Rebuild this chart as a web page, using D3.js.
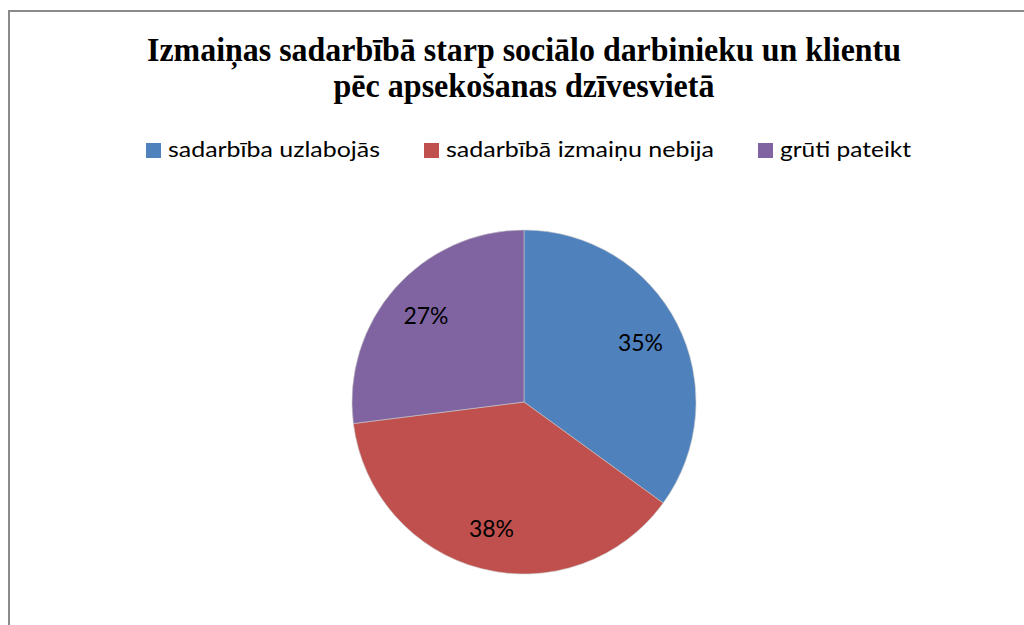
<!DOCTYPE html>
<html>
<head>
<meta charset="utf-8">
<script src="https://cdn.jsdelivr.net/npm/d3@7"></script>
<style>
    html, body { margin: 0; padding: 0; background: #fff; }
    svg { display: block; }
</style>
</head>
<body>
<script>
var titleLines = ["Izmaiņas sadarbībā starp sociālo darbinieku un klientu",
                  "pēc apsekošanas dzīvesvietā"];
var categories = ["sadarbība uzlabojās", "sadarbībā izmaiņu nebija", "grūti pateikt"];
var values = [35, 38, 27];
var colors = ["#4f81bd", "#c0504d", "#8064a2"];

(function () {
    var width = 1024,
        height = 625;

    var svg = d3.select("body")
        .append("svg")
        .attr("width", width)
        .attr("height", height);

    // chart frame (runs off the right and bottom of the picture)
    svg.append("rect")
        .attr("x", 9)
        .attr("y", 11)
        .attr("width", width + 20)
        .attr("height", height + 20)
        .attr("fill", "#fff")
        .attr("stroke", "#8a8a8a")
        .attr("stroke-width", 2);

    // title
    var titleWidths = [754, 381];
    svg.append("g")
        .selectAll("text")
        .data(titleLines)
        .enter().append("text")
        .attr("x", 524)
        .attr("y", function (d, i) { return 61 + i * 36; })
        .attr("text-anchor", "middle")
        .attr("textLength", function (d, i) { return titleWidths[i]; })
        .attr("lengthAdjust", "spacingAndGlyphs")
        .style("font-family", "'Liberation Serif', 'Times New Roman', serif")
        .style("font-weight", "bold")
        .style("font-size", "33px")
        .text(function (d) { return d; });

    // legend
    var legendX = [146, 424, 758],
        legendW = [212, 268, 131];
    var legend = svg.append("g")
        .selectAll("g")
        .data(categories)
        .enter().append("g")
        .attr("transform", function (d, i) { return "translate(" + legendX[i] + ",143)"; });

    legend.append("rect")
        .attr("width", 15)
        .attr("height", 15)
        .attr("fill", function (d, i) { return colors[i]; });

    legend.append("text")
        .attr("x", 22)
        .attr("y", 13.5)
        .attr("textLength", function (d, i) { return legendW[i]; })
        .attr("lengthAdjust", "spacingAndGlyphs")
        .style("font-family", "Lato, sans-serif")
        .style("font-size", "22px")
        .style("fill", "#000")
        .text(function (d) { return d; });

    // pie
    var cx = 524,
        cy = 402,
        r = 172;

    var pie = d3.pie().sort(null).value(function (d) { return d; });
    var arc = d3.arc().innerRadius(0).outerRadius(r);
    var labelArc = d3.arc().innerRadius(r * 0.76).outerRadius(r * 0.76);
    var total = d3.sum(values);

    var g = svg.append("g")
        .attr("transform", "translate(" + cx + "," + cy + ")");

    var slices = pie(values);

    g.selectAll("path")
        .data(slices)
        .enter().append("path")
        .attr("d", arc)
        .attr("fill", function (d, i) { return colors[i]; })
        .attr("stroke", "#c8c8c8")
        .attr("stroke-width", 0.6);

    g.selectAll("text")
        .data(slices)
        .enter().append("text")
        .attr("transform", function (d) { return "translate(" + labelArc.centroid(d) + ")"; })
        .attr("text-anchor", "middle")
        .attr("dy", "0.35em")
        .style("font-family", "Lato, sans-serif")
        .style("font-size", "23px")
        .style("fill", "#000")
        .text(function (d) { return Math.round(d.value / total * 100) + "%"; });
}());
</script>
</body>
</html>
